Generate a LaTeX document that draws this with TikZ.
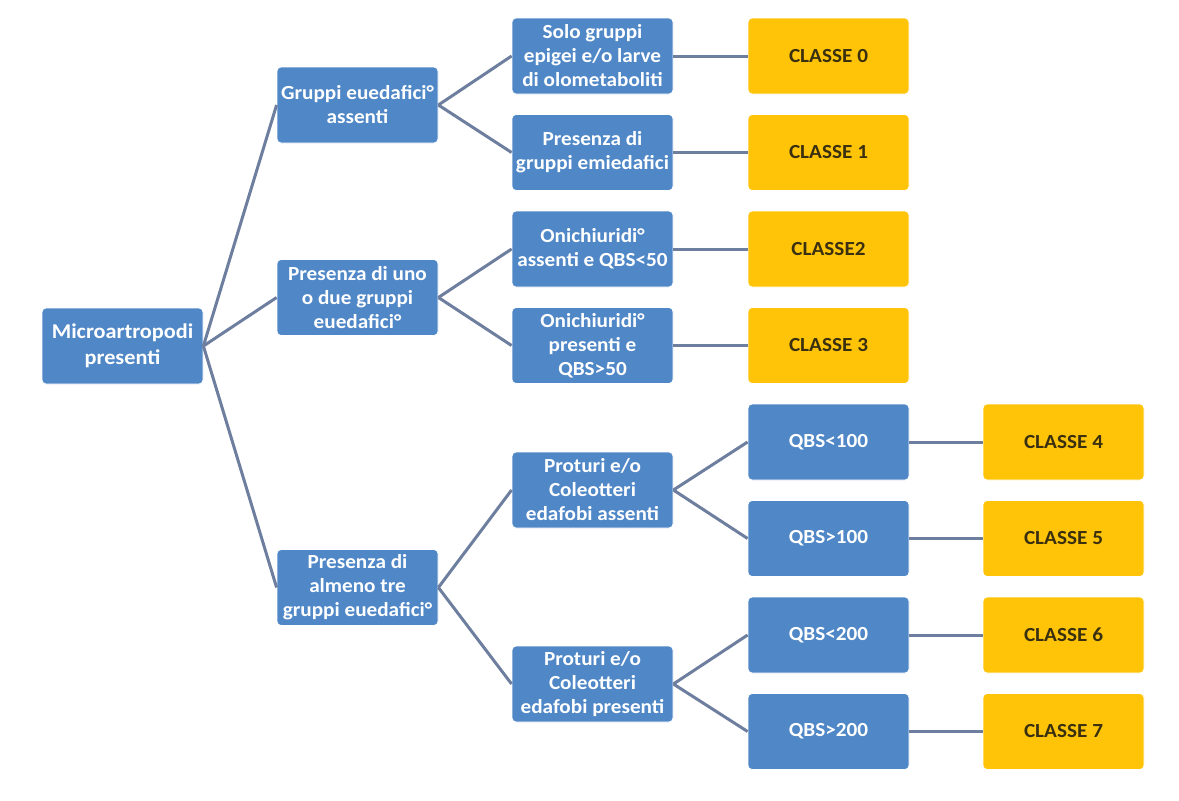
\documentclass[tikz,border=0pt]{standalone}
\usepackage{fontspec}
\setmainfont{Carlito}[FakeStretch=1.06]
\definecolor{boxblue}{HTML}{4F87C7}
\definecolor{boxyellow}{HTML}{FFC408}
\definecolor{linec}{HTML}{6E7E9E}
\definecolor{darktxt}{HTML}{3A3010}
\begin{document}
\begin{tikzpicture}[x=1pt,y=-1pt,
  bluebox/.style={fill=boxblue, draw=white, line width=0.8pt, rounded corners=4pt, minimum width=161pt, minimum height=76pt, inner sep=0pt, align=center, text=white, font=\fontsize{20}{24}\selectfont\bfseries},
  yelbox/.style={fill=boxyellow, draw=white, line width=0.8pt, rounded corners=4pt, minimum width=161pt, minimum height=76pt, inner sep=0pt, align=center, text=darktxt, font=\fontsize{20}{24}\selectfont\bfseries},
  conn/.style={draw=linec, line width=3pt}]
\useasboundingbox (0,0) rectangle (1179,801);
\fill[white] (0,0) rectangle (1179,801);
% level 0
\node[bluebox, font=\fontsize{21}{26}\selectfont\bfseries] (root) at (122.5,346) {Microartropodi\\presenti};
% level 1
\node[bluebox] (A) at (357.5,105) {Gruppi euedafici°\\assenti};
\node[bluebox] (B) at (357.5,297.5) {Presenza di uno\\o due gruppi\\euedafici°};
\node[bluebox] (C) at (357.5,587.5) {Presenza di\\almeno tre\\gruppi euedafici°};
% level 2
\node[bluebox] (A1) at (592.5,56) {Solo gruppi\\epigei e/o larve\\di olometaboliti};
\node[bluebox] (A2) at (592.5,152.5) {Presenza di\\gruppi emiedafici};
\node[bluebox] (B1) at (592.5,249) {Onichiuridi°\\assenti e QBS<50};
\node[bluebox] (B2) at (592.5,345.5) {Onichiuridi°\\presenti e\\QBS>50};
\node[bluebox] (C1) at (592.5,490) {Proturi e/o\\Coleotteri\\edafobi assenti};
\node[bluebox] (C2) at (592.5,684) {Proturi e/o\\Coleotteri\\edafobi presenti};
% level 3
\node[yelbox] (K0) at (828.5,56) {CLASSE 0};
\node[yelbox] (K1) at (828.5,152.5) {CLASSE 1};
\node[yelbox] (K2) at (828.5,249) {CLASSE2};
\node[yelbox] (K3) at (828.5,345.5) {CLASSE 3};
\node[bluebox] (Q1) at (828.5,442) {QBS<100};
\node[bluebox] (Q2) at (828.5,538.5) {QBS>100};
\node[bluebox] (Q3) at (828.5,635) {QBS<200};
\node[bluebox] (Q4) at (828.5,731.5) {QBS>200};
% level 4
\node[yelbox] (K4) at (1063.5,442) {CLASSE 4};
\node[yelbox] (K5) at (1063.5,538.5) {CLASSE 5};
\node[yelbox] (K6) at (1063.5,635) {CLASSE 6};
\node[yelbox] (K7) at (1063.5,731.5) {CLASSE 7};
% connectors
\foreach \t in {A,B,C} \draw[conn] (root.east) -- (\t.west);
\draw[conn] (A.east) -- (A1.west);
\draw[conn] (A.east) -- (A2.west);
\draw[conn] (B.east) -- (B1.west);
\draw[conn] (B.east) -- (B2.west);
\draw[conn] (C.east) -- (C1.west);
\draw[conn] (C.east) -- (C2.west);
\draw[conn] (A1.east) -- (K0.west);
\draw[conn] (A2.east) -- (K1.west);
\draw[conn] (B1.east) -- (K2.west);
\draw[conn] (B2.east) -- (K3.west);
\draw[conn] (C1.east) -- (Q1.west);
\draw[conn] (C1.east) -- (Q2.west);
\draw[conn] (C2.east) -- (Q3.west);
\draw[conn] (C2.east) -- (Q4.west);
\draw[conn] (Q1.east) -- (K4.west);
\draw[conn] (Q2.east) -- (K5.west);
\draw[conn] (Q3.east) -- (K6.west);
\draw[conn] (Q4.east) -- (K7.west);
\end{tikzpicture}
\end{document}
